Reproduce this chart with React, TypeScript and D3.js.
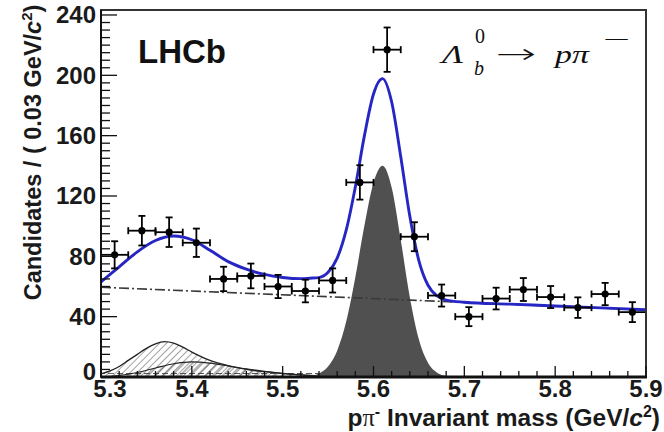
import React from 'react';
import * as d3 from 'd3';

// --- data ---
const binCenters = [5.315, 5.345, 5.375, 5.405, 5.435, 5.465, 5.495, 5.525, 5.555, 5.585,
  5.615, 5.645, 5.675, 5.705, 5.735, 5.765, 5.795, 5.825, 5.855, 5.885];
const counts = [81, 97, 96, 89, 65, 67, 60, 57, 64, 129, 217, 93, 54, 40, 52, 58, 53, 46, 55, 43];
const countErrors = [9, 9.8, 9.8, 9.4, 8.1, 8.2, 7.7, 7.5, 8, 11.4, 14.7, 9.6, 7.3, 6.3, 7.2, 7.6, 7.3, 6.8, 7.4, 6.6];
const binHalfWidth = 0.015;

// total fit (blue)
const fitMass = [5.30, 5.32, 5.34, 5.36, 5.38, 5.40, 5.42, 5.44, 5.46, 5.48, 5.50, 5.52, 5.53, 5.54,
  5.55, 5.56, 5.57, 5.58, 5.59, 5.60, 5.61, 5.62, 5.63, 5.64, 5.65, 5.66, 5.67, 5.68, 5.70, 5.75, 5.80, 5.85, 5.90];
const fitTotal = [63, 73, 83, 90.5, 93.5, 91, 84, 76.5, 71.5, 68, 66, 65.2, 65.5, 65.9,
  69.4, 78.8, 97.5, 126, 160, 187.6, 197.8, 182.3, 146, 106.5, 77, 60.8, 53.7, 51, 49.6, 48.3, 47.1, 45.8, 44.6];

// signal (dark grey)
const signalMass = [5.52, 5.53, 5.54, 5.55, 5.56, 5.57, 5.58, 5.59, 5.60, 5.61, 5.62, 5.63, 5.64, 5.65,
  5.66, 5.67, 5.68, 5.69, 5.70];
const signalValues = [0.1, 0.7, 2.4, 7.0, 17.4, 36.9, 66.2, 100.4, 128.8, 140, 125.6, 90.8, 52.9, 24.8,
  9.4, 2.9, 0.7, 0.1, 0];

// combinatorial background (dash-dot)
const combMass = [5.3, 5.9];
const combValues = [59.5, 44.5];

// partially reconstructed / misid backgrounds (hatched)
const partRecoMass = [5.30, 5.31, 5.32, 5.33, 5.34, 5.35, 5.36, 5.37, 5.38, 5.39, 5.40, 5.42, 5.44, 5.46,
  5.48, 5.50, 5.52, 5.54, 5.56, 5.58];
const partRecoValues = [2, 4, 7, 11, 15, 19, 22, 23.5, 22.5, 19.8, 16.5, 11, 7.5, 5, 3.5, 2.3, 1.4, 0.7, 0.2, 0];
const secondMass = [5.30, 5.32, 5.34, 5.36, 5.38, 5.40, 5.42, 5.44, 5.46, 5.48, 5.50, 5.52, 5.54, 5.56, 5.58];
const secondValues = [0.2, 1, 3, 6, 8.8, 10, 9.2, 7.3, 5.4, 3.8, 2.5, 1.5, 0.7, 0.2, 0];
const misIdMass = [5.30, 5.40, 5.50, 5.56, 5.60, 5.62];
const misIdValues = [2.5, 3, 3, 2.6, 1.5, 0];

const xTicks = [5.3, 5.4, 5.5, 5.6, 5.7, 5.8, 5.9];
const xTickLabels = ['5.3', '5.4', '5.5', '5.6', '5.7', '5.8', '5.9'];
const yTicks = [0, 40, 80, 120, 160, 200, 240];
const yTickLabels = ['0', '40', '80', '120', '160', '200', '240'];

const W = 664;
const H = 432;
const left = 101, right = 646, top = 10, bottom = 377;
const sans = "'Liberation Sans', Arial, sans-serif";
const serif = "'Liberation Serif', 'DejaVu Serif', serif";

export default function App() {
  const x = d3.scaleLinear().domain([5.3, 5.9]).range([left, right]);
  const y = d3.scaleLinear().domain([0, 243.3]).range([bottom, top]);

  const line = d3.line<[number, number]>()
    .x(d => x(d[0]))
    .y(d => y(d[1]))
    .curve(d3.curveMonotoneX);
  const area = d3.area<[number, number]>()
    .x(d => x(d[0]))
    .y0(y(0))
    .y1(d => y(d[1]))
    .curve(d3.curveMonotoneX);

  const fitPts = d3.zip(fitMass, fitTotal) as [number, number][];
  const sigPts = d3.zip(signalMass, signalValues) as [number, number][];
  const combPts = d3.zip(combMass, combValues) as [number, number][];
  const partPts = d3.zip(partRecoMass, partRecoValues) as [number, number][];
  const secPts = d3.zip(secondMass, secondValues) as [number, number][];
  const misPts = d3.zip(misIdMass, misIdValues) as [number, number][];

  const xMinor = d3.range(5.3, 5.9001, 0.02);
  const yMinor = d3.range(0, 241, 5);

  return (
    <svg width={W} height={H} style={{ position: 'absolute', left: 0, top: 0, background: '#fff' }}>
      <defs>
        <clipPath id="plotArea">
          <rect x={left} y={top} width={right - left} height={bottom - top} />
        </clipPath>
        <pattern id="hatchA" patternUnits="userSpaceOnUse" width="5" height="5" patternTransform="rotate(45)">
          <line x1="0" y1="0" x2="0" y2="5" stroke="#333" strokeWidth="0.9" />
        </pattern>
        <pattern id="hatchB" patternUnits="userSpaceOnUse" width="6" height="6" patternTransform="rotate(45)">
          <line x1="3" y1="0" x2="3" y2="6" stroke="#444" strokeWidth="0.8" />
        </pattern>
        <pattern id="hatchC" patternUnits="userSpaceOnUse" width="9" height="3">
          <line x1="0" y1="1.5" x2="6" y2="1.5" stroke="#444" strokeWidth="0.9" />
        </pattern>
      </defs>

      <g clipPath="url(#plotArea)">
        {/* hatched backgrounds */}
        <path d={area(misPts) ?? ''} fill="url(#hatchC)" />
        <path d={area(partPts) ?? ''} fill="url(#hatchA)" stroke="#222" strokeWidth={1.3} />
        <path d={area(secPts) ?? ''} fill="url(#hatchB)" stroke="#222" strokeWidth={1.1} />
        {/* signal */}
        <path d={area(sigPts) ?? ''} fill="#505050" />
        {/* combinatorial */}
        <path d={line(combPts) ?? ''} fill="none" stroke="#3a3a3a" strokeWidth={1.6}
          strokeDasharray="10,3,2,3" />
        {/* total fit */}
        <path d={line(fitPts) ?? ''} fill="none" stroke="#2626c4" strokeWidth={2.9} />
      </g>

      {/* data points */}
      <g stroke="#000" strokeWidth={1.8}>
        {binCenters.map((c, i) => {
          const cx = x(c);
          const cy = y(counts[i]);
          const x0 = x(c - binHalfWidth);
          const x1 = x(c + binHalfWidth);
          const yHi = y(counts[i] + countErrors[i]);
          const yLo = y(counts[i] - countErrors[i]);
          return (
            <g key={i}>
              <line x1={x0} x2={x1} y1={cy} y2={cy} />
              <line x1={cx} x2={cx} y1={yHi} y2={yLo} />
              <line x1={cx - 3.5} x2={cx + 3.5} y1={yHi} y2={yHi} />
              <line x1={cx - 3.5} x2={cx + 3.5} y1={yLo} y2={yLo} />
              <line x1={x0} x2={x0} y1={cy - 3.5} y2={cy + 3.5} />
              <line x1={x1} x2={x1} y1={cy - 3.5} y2={cy + 3.5} />
              <circle cx={cx} cy={cy} r={3.6} fill="#000" stroke="none" />
            </g>
          );
        })}
      </g>

      {/* frame */}
      <rect x={left} y={top} width={right - left} height={bottom - top} fill="none" stroke="#333" strokeWidth={2} />
      <line x1={left} x2={right + 1} y1={bottom} y2={bottom} stroke="#111" strokeWidth={3} />
      <line x1={left} x2={left} y1={top} y2={bottom} stroke="#111" strokeWidth={2} />

      {/* ticks */}
      <g stroke="#111" strokeWidth={1.3}>
        {yMinor.map(v => {
          const major = v % 40 === 0;
          return <line key={'ym' + v} x1={left} x2={left + (major ? 16 : 9)} y1={y(v)} y2={y(v)} />;
        })}
        {xMinor.map((v, i) => {
          const major = i % 5 === 0;
          return <line key={'xm' + i} x1={x(v)} x2={x(v)} y1={bottom} y2={bottom - (major ? 11 : 6)} />;
        })}
      </g>

      <g fontFamily={sans} fontWeight="bold" fontSize={24} fill="#1a1a1a">
        {yTicks.map((v, i) => (
          <text key={'yl' + v} x={left - 5} y={y(v) - (v === 0 ? 6 : 0)} textAnchor="end" dominantBaseline="central">{yTickLabels[i]}</text>
        ))}
        {xTicks.map((v, i) => (
          <text key={'xl' + v} x={x(v) + (i === 0 ? 9 : 0)} y={397} textAnchor="middle">{xTickLabels[i]}</text>
        ))}

        {/* axis titles */}
        <text transform="translate(41,152.5) rotate(-90)" textAnchor="middle" fontSize={23.5}>
          Candidates / ( 0.03 GeV/<tspan fontStyle="italic">c</tspan>
          <tspan fontSize={15} dy={-9}>2</tspan><tspan dy={9}>)</tspan>
        </text>
        <text x={660} y={426} textAnchor="end" fontSize={24.5}>
          p<tspan fontFamily={serif} fontWeight="normal">π</tspan><tspan fontSize={16} dy={-9}>-</tspan>
          <tspan dy={9}> Invariant mass (GeV/</tspan><tspan fontStyle="italic">c</tspan>
          <tspan fontSize={16} dy={-9}>2</tspan><tspan dy={9}>)</tspan>
        </text>

        <text x={138} y={63} fontSize={33} fill="#111">LHCb</text>
      </g>

      {/* decay label */}
      <g fontFamily={serif} fill="#111">
        <text transform="translate(442,63) scale(1.35,1)" fontSize={26} fontStyle="italic">Λ</text>
        <text x={475} y={43} fontSize={20}>0</text>
        <text x={474} y={75} fontSize={20} fontStyle="italic">b</text>
        <text transform="translate(496,63) scale(1.8,1)" fontSize={27} fontFamily="'DejaVu Sans', sans-serif" fontWeight="300">→</text>
        <text transform="translate(555,63) scale(1.3,1)" fontSize={26} fontStyle="italic">pπ</text>
        <text transform="translate(603,46) scale(2.4,1)" fontSize={20}>−</text>
      </g>
    </svg>
  );
}
